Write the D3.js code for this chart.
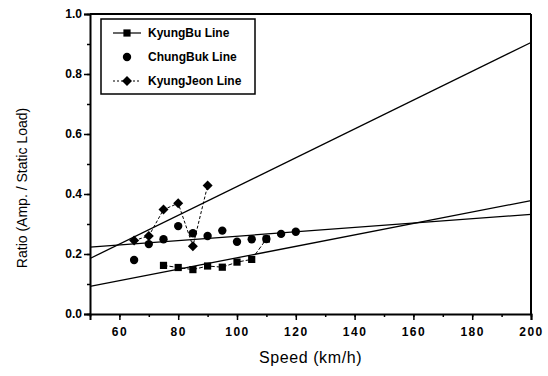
<!DOCTYPE html>
<html>
<head>
<meta charset="utf-8">
<script src="https://cdn.jsdelivr.net/npm/d3@7/dist/d3.min.js"></script>
<style>
  body { margin: 0; background: #fff; }
  svg { display: block; font-family: "Liberation Sans", Arial, sans-serif; }
</style>
</head>
<body>
<div id="chart"></div>
<script>
// data
const kyungBuSpeed = [75, 80, 85, 90, 95, 100, 105, 110];
const kyungBuRatio = [0.162, 0.155, 0.148, 0.16, 0.156, 0.173, 0.182, 0.25];

const chungBukSpeed = [65, 70, 75, 80, 85, 90, 95, 100, 105, 110, 115, 120];
const chungBukRatio = [0.18, 0.233, 0.249, 0.293, 0.269, 0.26, 0.278, 0.241, 0.249, 0.25, 0.267, 0.274];

const kyungJeonSpeed = [65, 70, 75, 80, 85, 90];
const kyungJeonRatio = [0.245, 0.26, 0.348, 0.369, 0.226, 0.428];

// fitted lines, value at each end of the speed range
const fitSpeed = [50, 200];
const kyungBuFit = [0.092, 0.378];
const chungBukFit = [0.223, 0.332];
const kyungJeonFit = [0.185, 0.905];

const xTicks = [60, 80, 100, 120, 140, 160, 180, 200];
const yTicks = [0.0, 0.2, 0.4, 0.6, 0.8, 1.0];
const legendLabels = ['KyungBu Line', 'ChungBuk Line', 'KyungJeon Line'];

const W = 548, H = 376;
const margin = { top: 14, right: 17, bottom: 62, left: 90 };
const width = W - margin.left - margin.right;
const height = H - margin.top - margin.bottom;

const svg = d3.select('#chart').append('svg')
  .attr('width', W)
  .attr('height', H);

const g = svg.append('g')
  .attr('transform', `translate(${margin.left},${margin.top})`);

const x = d3.scaleLinear().domain([50, 200]).range([0, width]);
const y = d3.scaleLinear().domain([0, 1]).range([height, 0]);

const zip = (a, b) => a.map((v, i) => [v, b[i]]);

// minor ticks
g.append('g')
  .attr('transform', `translate(0,${height})`)
  .call(d3.axisBottom(x).tickValues(d3.range(50, 201, 10)).tickSize(3).tickFormat(''))
  .call(a => a.select('.domain').remove());
g.append('g')
  .call(d3.axisLeft(y).tickValues(d3.range(0, 1.01, 0.1)).tickSize(3).tickFormat(''))
  .call(a => a.select('.domain').remove());

// major axes
const xAxis = g.append('g')
  .attr('transform', `translate(0,${height})`)
  .call(d3.axisBottom(x).tickValues(xTicks).tickSize(6).tickPadding(7).tickFormat(d3.format('d')));
const yAxis = g.append('g')
  .call(d3.axisLeft(y).tickValues(yTicks).tickSize(6).tickPadding(2).tickFormat(d3.format('.1f')));

[xAxis, yAxis].forEach(a => {
  a.selectAll('text').attr('font-size', 12).attr('font-weight', 'bold').attr('fill', '#000')
    .attr('font-family', '"Liberation Sans", Arial, sans-serif');
  a.select('.domain').attr('stroke', '#000').attr('stroke-width', 2);
});
xAxis.selectAll('text').attr('letter-spacing', 1.5);
g.selectAll('.tick line').attr('stroke', '#000').attr('stroke-width', 1.5);

// frame top/right
g.append('line').attr('x1', 0).attr('x2', width).attr('y1', 0).attr('y2', 0)
  .attr('stroke', '#000').attr('stroke-width', 2);
g.append('line').attr('x1', width).attr('x2', width).attr('y1', 0).attr('y2', height)
  .attr('stroke', '#000').attr('stroke-width', 2);

const line = d3.line().x(d => x(d[0])).y(d => y(d[1]));

// fit lines
[kyungBuFit, chungBukFit, kyungJeonFit].forEach(f => {
  g.append('path')
    .datum(zip(fitSpeed, f))
    .attr('d', line)
    .attr('fill', 'none')
    .attr('stroke', '#000')
    .attr('stroke-width', 1.3);
});

// connecting lines
g.append('path')
  .datum(zip(kyungBuSpeed, kyungBuRatio))
  .attr('d', line)
  .attr('fill', 'none')
  .attr('stroke', '#000')
  .attr('stroke-width', 1)
  .attr('stroke-dasharray', '4,2');

g.append('path')
  .datum(zip(kyungJeonSpeed, kyungJeonRatio))
  .attr('d', line)
  .attr('fill', 'none')
  .attr('stroke', '#000')
  .attr('stroke-width', 1)
  .attr('stroke-dasharray', '3,2');

const sq = d3.symbol().type(d3.symbolSquare).size(52);
const ci = d3.symbol().type(d3.symbolCircle).size(55);
const di = d3.symbol().type(d3.symbolSquare).size(50);

g.selectAll('.cb')
  .data(zip(chungBukSpeed, chungBukRatio))
  .enter().append('path')
  .attr('class', 'cb')
  .attr('d', ci)
  .attr('transform', d => `translate(${x(d[0])},${y(d[1])})`)
  .attr('fill', '#000');

g.selectAll('.kj')
  .data(zip(kyungJeonSpeed, kyungJeonRatio))
  .enter().append('path')
  .attr('class', 'kj')
  .attr('d', di)
  .attr('transform', d => `translate(${x(d[0])},${y(d[1])}) rotate(45)`)
  .attr('fill', '#000');

g.selectAll('.kb')
  .data(zip(kyungBuSpeed, kyungBuRatio))
  .enter().append('path')
  .attr('class', 'kb')
  .attr('d', sq)
  .attr('transform', d => `translate(${x(d[0])},${y(d[1])})`)
  .attr('fill', '#000');

// legend
const lg = svg.append('g').attr('transform', 'translate(101,19)');
lg.append('rect')
  .attr('width', 154).attr('height', 75)
  .attr('fill', '#fff').attr('stroke', '#000').attr('stroke-width', 1.5);

const legendY = [14, 38, 62];
const symbols = [sq, ci, di];
const rotations = [0, 0, 45];
const dashes = [null, 'none', '2,2'];
legendLabels.forEach((lab, i) => {
  const row = lg.append('g').attr('transform', `translate(0,${legendY[i]})`);
  if (dashes[i] !== 'none') {
    row.append('line')
      .attr('x1', 12).attr('x2', 40).attr('y1', 0).attr('y2', 0)
      .attr('stroke', '#000').attr('stroke-width', 1.2)
      .attr('stroke-dasharray', dashes[i]);
  }
  row.append('path').attr('d', symbols[i])
    .attr('transform', `translate(26,0) rotate(${rotations[i]})`).attr('fill', '#000');
  row.append('text')
    .attr('x', 47).attr('y', 0).attr('dy', '0.35em')
    .attr('font-size', 12).attr('font-weight', 'bold')
    .text(lab);
});

// axis titles
svg.append('text')
  .attr('x', margin.left + width / 2).attr('y', 363)
  .attr('text-anchor', 'middle')
  .attr('font-size', 16)
  .attr('letter-spacing', 0.6)
  .text('Speed (km/h)');

svg.append('text')
  .attr('transform', 'translate(27,188) rotate(-90)')
  .attr('text-anchor', 'middle')
  .attr('font-size', 14)
  .text('Ratio (Amp. / Static Load)');
</script>
</body>
</html>
